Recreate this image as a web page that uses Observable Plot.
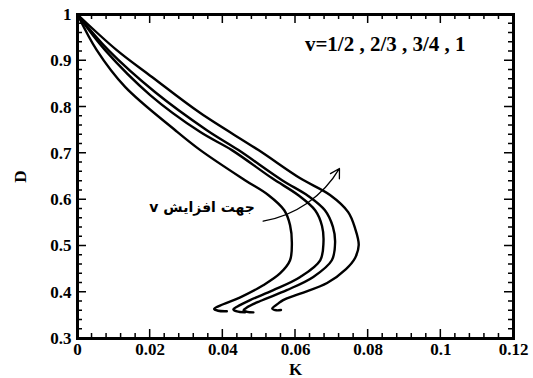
<!DOCTYPE html>
<html>
<head>
<meta charset="utf-8">
<script src="https://cdn.jsdelivr.net/npm/d3@7"></script>
<script src="https://cdn.jsdelivr.net/npm/@observablehq/plot@0.6"></script>
<style>
  html, body { margin: 0; padding: 0; background: #fff; }
  svg { display: block; }
</style>
</head>
<body>
<div id="chart"></div>
<script>
// Series labels (values of v)
const nuLabels = ["1/2", "2/3", "3/4", "1"];

// v = 1/2
const kHalf = [0, 0.0053, 0.0131, 0.0269, 0.0338, 0.0461, 0.0525, 0.0569, 0.0585, 0.0590, 0.0585, 0.0558, 0.0511, 0.0448, 0.0401, 0.0376, 0.0387, 0.0411];
const dHalf = [1, 0.923, 0.8436, 0.750, 0.707, 0.642, 0.610, 0.577, 0.545, 0.506, 0.469, 0.441, 0.415, 0.389, 0.374, 0.364, 0.360, 0.359];

// v = 2/3
const kTwoThirds = [0, 0.0076, 0.0200, 0.0338, 0.0425, 0.0536, 0.0607, 0.0654, 0.0673, 0.0677, 0.0668, 0.0613, 0.0539, 0.0475, 0.0439, 0.0429, 0.0439, 0.0461];
const dTwoThirds = [1, 0.923, 0.826, 0.746, 0.707, 0.646, 0.610, 0.577, 0.543, 0.508, 0.469, 0.433, 0.4045, 0.383, 0.3685, 0.363, 0.3585, 0.3564];

// v = 3/4
const kThreeQuarters = [0, 0.0085, 0.0214, 0.0356, 0.0443, 0.0563, 0.0635, 0.0681, 0.0703, 0.0709, 0.0700, 0.0649, 0.0576, 0.0503, 0.0466, 0.0457, 0.0467, 0.0484];
const dThreeQuarters = [1, 0.923, 0.832, 0.750, 0.707, 0.642, 0.608, 0.577, 0.541, 0.508, 0.469, 0.433, 0.4045, 0.381, 0.367, 0.361, 0.3577, 0.3564];

// v = 1
const kOne = [0, 0.0108, 0.0205, 0.0338, 0.0498, 0.0613, 0.0695, 0.0745, 0.0764, 0.0774, 0.0764, 0.0739, 0.0687, 0.0613, 0.0566, 0.0552, 0.0536, 0.0547, 0.0560];
const dOne = [1, 0.923, 0.865, 0.787, 0.707, 0.646, 0.610, 0.573, 0.538, 0.502, 0.474, 0.450, 0.420, 0.397, 0.383, 0.3754, 0.3646, 0.361, 0.3616];

// Axis ticks and labels
const xTicks = [0, 0.02, 0.04, 0.06, 0.08, 0.1, 0.12];
const xTickLabels = ["0", "0.02", "0.04", "0.06", "0.08", "0.1", "0.12"];
const yTicks = [0.3, 0.4, 0.5, 0.6, 0.7, 0.8, 0.9, 1];
const yTickLabels = ["0.3", "0.4", "0.5", "0.6", "0.7", "0.8", "0.9", "1"];
const xMinorTicks = [0.004, 0.008, 0.012, 0.016, 0.024, 0.028, 0.032, 0.036, 0.044, 0.048, 0.052, 0.056, 0.064, 0.068, 0.072, 0.076, 0.084, 0.088, 0.092, 0.096, 0.104, 0.108, 0.112, 0.116];
const yMinorTicks = [0.32, 0.34, 0.36, 0.38, 0.42, 0.44, 0.46, 0.48, 0.52, 0.54, 0.56, 0.58, 0.62, 0.64, 0.66, 0.68, 0.72, 0.74, 0.76, 0.78, 0.82, 0.84, 0.86, 0.88, 0.92, 0.94, 0.96, 0.98];

// Texts
const xLabel = "K";
const yLabel = "D";
const legendText = "v=1/2 , 2/3 , 3/4 , 1";
const arrowText = "\u202Bجهت افزایش v\u202C";

(function draw() {
  const series = [
    {nu: nuLabels[0], k: kHalf, d: dHalf},
    {nu: nuLabels[1], k: kTwoThirds, d: dTwoThirds},
    {nu: nuLabels[2], k: kThreeQuarters, d: dThreeQuarters},
    {nu: nuLabels[3], k: kOne, d: dOne}
  ];
  const rows = series.flatMap(s => s.k.map((k, i) => ({K: k, D: s.d[i], nu: s.nu})));
  const xTickRows = [
    ...xTicks.map(v => ({v, len: 9})),
    ...xMinorTicks.map(v => ({v, len: 5}))
  ];
  const yTickRows = [
    ...yTicks.map(v => ({v, len: 9})),
    ...yMinorTicks.map(v => ({v, len: 5}))
  ];

  const serif = "'Liberation Serif', 'Times New Roman', serif";

  const chart = Plot.plot({
    width: 533,
    height: 378,
    marginTop: 14,
    marginRight: 20,
    marginBottom: 40,
    marginLeft: 77,
    style: {fontFamily: serif, fontSize: "17px", fontWeight: "bold", background: "white", color: "black"},
    x: {domain: [0, 0.12]},
    y: {domain: [0.3, 1]},
    marks: [
      Plot.axisX(xTicks, {anchor: "bottom", tickSize: 0, tickPadding: 4, fontSize: 17,
        tickFormat: d => xTickLabels[xTicks.indexOf(d)],
        label: xLabel, labelArrow: "none", labelAnchor: "center", labelOffset: 36}),
      Plot.axisY(yTicks, {anchor: "left", tickSize: 0, tickPadding: 6, fontSize: 17,
        tickFormat: d => yTickLabels[yTicks.indexOf(d)],
        label: yLabel, labelArrow: "none", labelAnchor: "center", labelOffset: 64}),
      Plot.line(rows, {x: "K", y: "D", z: "nu", stroke: "black", strokeWidth: 2.4, curve: "catmull-rom"}),
      Plot.arrow([arrowText], {x1: 0.0511, y1: 0.5536, x2: 0.0721, y2: 0.6674, bend: -25,
        stroke: "black", strokeWidth: 1.3, headLength: 12}),
      Plot.text([arrowText], {x: 0.0343, y: 0.582, text: d => d,
        fontFamily: "'DejaVu Sans', sans-serif", fontWeight: "bold", fontSize: 14, fill: "black"}),
      Plot.text([legendText], {x: 0.0847, y: 0.936, text: d => d,
        fontFamily: serif, fontWeight: "bold", fontSize: 21, fill: "black"}),
      Plot.frame({stroke: "black", strokeWidth: 3})
    ]
  });

  // Inward ticks on all four sides, positioned with the plot's own scales.
  const sx = chart.scale("x"), sy = chart.scale("y");
  const pxLeft = sx.apply(0), pxRight = sx.apply(0.12);
  const pyBottom = sy.apply(0.3), pyTop = sy.apply(1);
  let pathD = "";
  for (const t of xTickRows) {
    const px = sx.apply(t.v);
    pathD += `M${px},${pyBottom}V${pyBottom - t.len}M${px},${pyTop}V${pyTop + t.len}`;
  }
  for (const t of yTickRows) {
    const py = sy.apply(t.v);
    pathD += `M${pxLeft},${py}H${pxLeft + t.len}M${pxRight},${py}H${pxRight - t.len}`;
  }
  const ns = "http://www.w3.org/2000/svg";
  const tickPath = document.createElementNS(ns, "path");
  tickPath.setAttribute("d", pathD);
  tickPath.setAttribute("fill", "none");
  tickPath.setAttribute("stroke", "black");
  tickPath.setAttribute("stroke-width", "1.5");
  chart.appendChild(tickPath);

  document.getElementById("chart").appendChild(chart);
})();
</script>
</body>
</html>
